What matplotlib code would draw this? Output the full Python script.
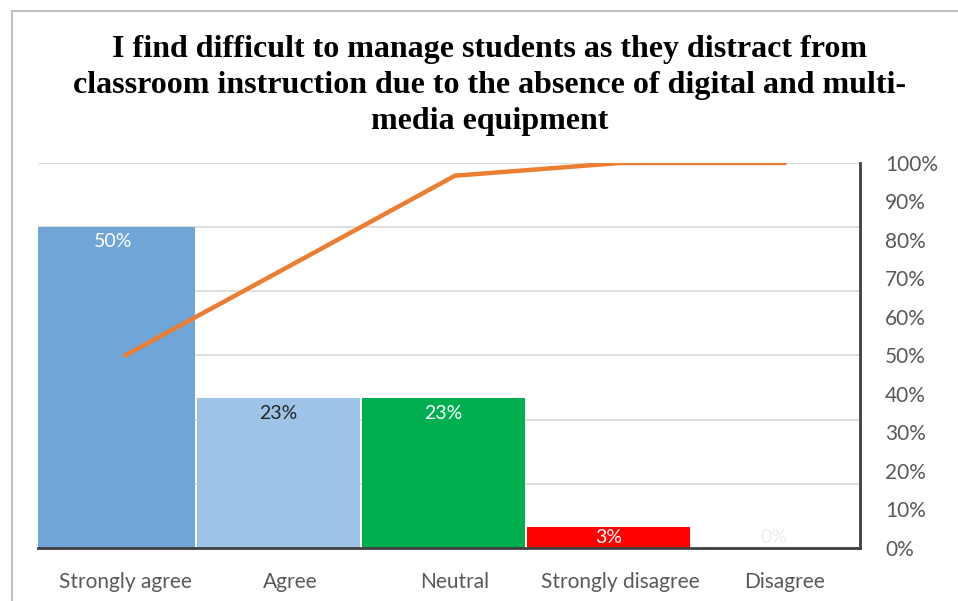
import numpy as np
from matplotlib import pyplot as plt
from matplotlib.lines import Line2D

categories = ["Strongly agree", "Agree", "Neutral", "Strongly disagree", "Disagree"]
shares = [50.0, 23.3, 23.3, 3.3, 0.0]
cumulative = [50.0, 73.3, 96.7, 100.0, 100.0]
bar_colors = ["#6FA6D7", "#9DC3E6", "#00B050", "#FF0000", "#FFFFFF"]
label_colors = ["white", "#262626", "white", "white", "#EDEDED"]

fig = plt.figure(figsize=(9.58, 6.01), dpi=100)
ax = fig.add_axes([0.0397, 0.0882, 0.858, 0.6406])
ax2 = ax.twinx()

x = np.arange(len(categories))
ax.set_axisbelow(True)
ax.yaxis.grid(True, color="#D9D9D9", linewidth=1.2)
ax.bar(x - 0.07, shares, width=0.985, color=bar_colors, zorder=2)
for xi, v, c in zip(x, shares, label_colors):
    ax.text(xi - 0.07, max(v - 2.3, 1.7), f"{v:.0f}%", ha="center", va="center", color=c,
            fontsize=14, family="Lato", zorder=3)

ax.set_xlim(-0.527, 4.455)
ax.set_ylim(0, 60)
ax.set_yticks(np.arange(0, 61, 10))
ax.tick_params(axis="y", left=False, labelleft=False)
ax.set_xticks(x)
ax.set_xticklabels(categories, fontsize=15, family="Lato", color="#595959")
ax.tick_params(axis="x", length=0, pad=17)
for s in ["left", "top", "right"]:
    ax.spines[s].set_visible(False)
ax.spines["bottom"].set_color("#404040")
ax.spines["bottom"].set_linewidth(2)

ax2.plot(x, cumulative, color="#ED7D31", linewidth=3.2, solid_capstyle="round", zorder=4)
ax2.set_ylim(0, 100)
ax2.set_yticks(np.arange(0, 101, 10))
ax2.set_yticklabels([f"{t}%" for t in range(0, 101, 10)], fontsize=15,
                    family="Lato", color="#595959")
ax2.tick_params(axis="y", length=0, pad=18)
for s in ["left", "top", "bottom"]:
    ax2.spines[s].set_visible(False)
ax2.spines["right"].set_color("#404040")
ax2.spines["right"].set_linewidth(2)

# chart border (only top and left edges visible)
fig.add_artist(Line2D([12 / 958, 1], [1 - 11 / 601, 1 - 11 / 601], color="#BFBFBF", linewidth=1.5))
fig.add_artist(Line2D([12 / 958, 12 / 958], [0, 1 - 11 / 601], color="#BFBFBF", linewidth=1.5))

fig.text(0.511, 1 - 35 / 601,
         "I find difficult to manage students as they distract from\n"
         "classroom instruction due to the absence of digital and multi-\n"
         "media equipment",
         ha="center", va="top", fontsize=23, fontweight="bold",
         family="Liberation Serif", linespacing=1.32)

fig.savefig("out.png", dpi=100)
